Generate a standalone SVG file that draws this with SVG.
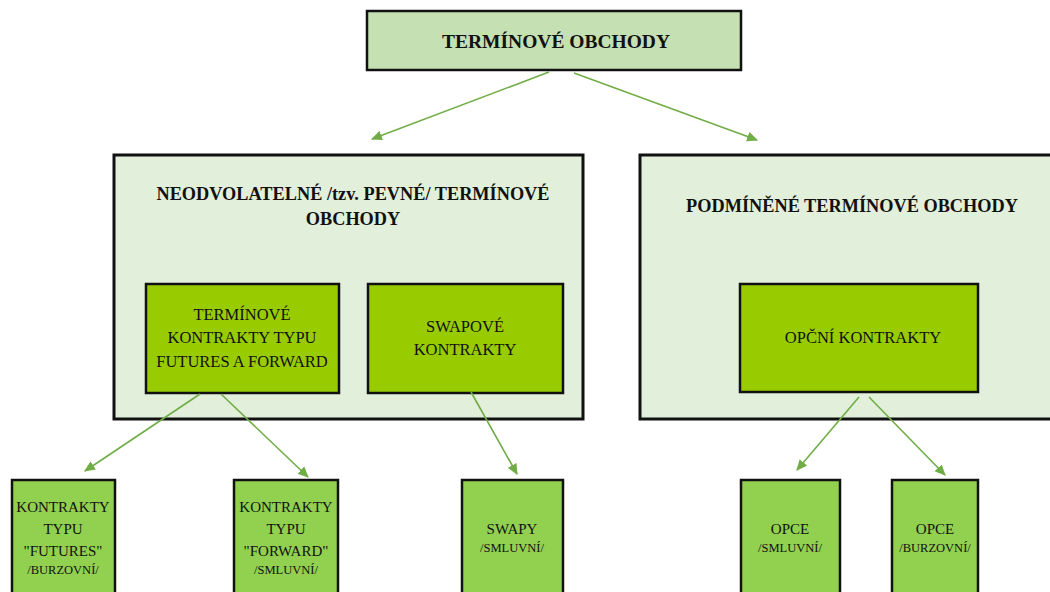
<svg xmlns="http://www.w3.org/2000/svg" width="1050" height="592" viewBox="0 0 1050 592">
<style>
.t{font-family:"Liberation Serif","Times New Roman",serif;fill:#111;text-anchor:middle}
.b{font-weight:bold;font-size:18.3px}
.n{font-size:16.5px}
.s{font-size:15px}
.x{font-size:12.5px}
.top{fill:#c5e0b3;stroke:#111;stroke-width:2.5}
.big{fill:#e2efda;stroke:#111;stroke-width:3}
.in{fill:#99cc00;stroke:#111;stroke-width:2.5}
.leaf{fill:#92d050;stroke:#111;stroke-width:2.5}
.c{stroke:#70ad47;stroke-width:1.6;fill:none;marker-end:url(#ah)}
</style>
<defs>
<marker id="ah" viewBox="0 0 10 10" refX="9" refY="5" markerWidth="11" markerHeight="11" markerUnits="userSpaceOnUse" orient="auto">
<path d="M0,0.5 L10,5 L0,9.5 z" fill="#70ad47"/>
</marker>
</defs>
<rect width="1050" height="592" fill="#fff"/>
<g id="n-top">
<rect class="top" x="367" y="11" width="374" height="59"/>
<text class="t b" x="556" y="48" style="font-size:19.5px">TERMÍNOVÉ OBCHODY</text>
</g>
<g id="n-pevne">
<rect class="big" x="114" y="155" width="469" height="264"/>
<text class="t b" x="353" y="200">NEODVOLATELNÉ /tzv. PEVNÉ/ TERMÍNOVÉ</text>
<text class="t b" x="353" y="225">OBCHODY</text>
</g>
<g id="n-podminene">
<rect class="big" x="640" y="155" width="430" height="264"/>
<text class="t b" x="852" y="212">PODMÍNĚNÉ TERMÍNOVÉ OBCHODY</text>
</g>
<g id="n-futfor">
<rect class="in" x="146" y="284" width="193" height="109"/>
<text class="t n" x="242" y="320">TERMÍNOVÉ</text>
<text class="t n" x="242" y="343">KONTRAKTY TYPU</text>
<text class="t n" x="242" y="367">FUTURES A FORWARD</text>
</g>
<g id="n-swapove">
<rect class="in" x="368" y="284" width="195" height="109"/>
<text class="t n" x="465" y="332">SWAPOVÉ</text>
<text class="t n" x="465" y="355">KONTRAKTY</text>
</g>
<g id="n-opcni">
<rect class="in" x="740" y="284" width="238" height="108"/>
<text class="t n" x="863" y="343">OPČNÍ KONTRAKTY</text>
</g>
<g id="n-futures">
<rect class="leaf" x="12" y="480" width="103" height="130"/>
<text class="t s" x="63" y="512">KONTRAKTY</text>
<text class="t s" x="63" y="534">TYPU</text>
<text class="t s" x="63" y="556">"FUTURES"</text>
<text class="t x" x="63" y="574">/BURZOVNÍ/</text>
</g>
<g id="n-forward">
<rect class="leaf" x="234" y="480" width="104" height="130"/>
<text class="t s" x="286" y="512">KONTRAKTY</text>
<text class="t s" x="286" y="534">TYPU</text>
<text class="t s" x="286" y="556">"FORWARD"</text>
<text class="t x" x="286" y="574">/SMLUVNÍ/</text>
</g>
<g id="n-swapy">
<rect class="leaf" x="462" y="480" width="101" height="130"/>
<text class="t s" x="512" y="534">SWAPY</text>
<text class="t x" x="512" y="552">/SMLUVNÍ/</text>
</g>
<g id="n-opce-s">
<rect class="leaf" x="741" y="480" width="99" height="130"/>
<text class="t s" x="790" y="534">OPCE</text>
<text class="t x" x="790" y="552">/SMLUVNÍ/</text>
</g>
<g id="n-opce-b">
<rect class="leaf" x="892" y="480" width="86" height="130"/>
<text class="t s" x="935" y="534">OPCE</text>
<text class="t x" x="935" y="552">/BURZOVNÍ/</text>
</g>
<g id="connectors">
<line class="c" x1="549" y1="72" x2="372" y2="139"/>
<line class="c" x1="574" y1="73" x2="757" y2="140"/>
<line class="c" x1="200" y1="394" x2="85" y2="471"/>
<line class="c" x1="221" y1="394" x2="308" y2="477"/>
<line class="c" x1="471" y1="392" x2="517" y2="474"/>
<line class="c" x1="859" y1="397" x2="797" y2="470"/>
<line class="c" x1="869" y1="397" x2="945" y2="475"/>
</g>
</svg>
